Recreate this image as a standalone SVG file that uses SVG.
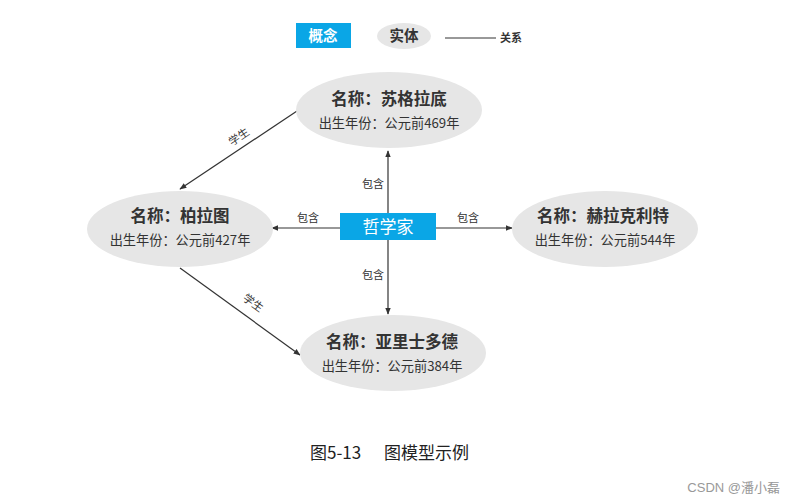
<svg xmlns="http://www.w3.org/2000/svg" width="794" height="503" viewBox="0 0 794 503">
<style>
text{font-family:"Noto Sans CJK SC","Noto Sans",sans-serif;fill:#333}
.ent{fill:#e6e6e6}
.t{font-size:16.5px;font-weight:bold;text-anchor:middle}
.s{font-size:13.2px;text-anchor:middle}
.lbl{font-size:11px;text-anchor:middle}
.ln{stroke:#333;stroke-width:1.2;fill:none;marker-end:url(#ah)}
</style>
<defs>
<marker id="ah" viewBox="0 0 10 10" refX="9" refY="5" markerWidth="7" markerHeight="7" orient="auto" markerUnits="userSpaceOnUse">
<path d="M0,1 L10,5 L0,9 Z" fill="#333"/>
</marker>
</defs>
<rect width="794" height="503" fill="#fff"/>
<g id="legend">
<rect x="296" y="23" width="55" height="25" fill="#0aa6e6"/>
<text x="323" y="41" style="font-size:14.5px;font-weight:bold;fill:#fff;text-anchor:middle">概念</text>
<ellipse class="ent" cx="404" cy="36" rx="27" ry="13"/>
<text x="404" y="41" style="font-size:14.5px;font-weight:bold;text-anchor:middle">实体</text>
<line x1="445" y1="38" x2="496" y2="38" stroke="#333" stroke-width="1"/>
<text x="500" y="42" style="font-size:11px;font-weight:bold">关系</text>
</g>
<g id="connectors">
<line class="ln" x1="388" y1="213" x2="388" y2="151"/>
<line class="ln" x1="388" y1="240" x2="388" y2="314"/>
<line class="ln" x1="340" y1="228" x2="272" y2="228"/>
<line class="ln" x1="436" y1="228" x2="512" y2="228"/>
<line class="ln" x1="297" y1="111" x2="180" y2="189"/>
<line class="ln" x1="180" y1="268" x2="300" y2="355"/>
<text class="lbl" x="373" y="188">包含</text>
<text class="lbl" x="373" y="279">包含</text>
<text class="lbl" x="308" y="222">包含</text>
<text class="lbl" x="468" y="222">包含</text>
<text class="lbl" transform="translate(241,140) rotate(-34)">学生</text>
<text class="lbl" transform="translate(251,306) rotate(36)">学生</text>
</g>
<g id="philosopher">
<rect x="340" y="213" width="96" height="27" fill="#0aa6e6"/>
<text x="388" y="233" style="font-size:17px;fill:#fff;text-anchor:middle">哲学家</text>
</g>
<g id="socrates">
<ellipse class="ent" cx="389" cy="110" rx="93" ry="38"/>
<text class="t" x="389" y="105">名称：苏格拉底</text>
<text class="s" x="389" y="128">出生年份：公元前469年</text>
</g>
<g id="plato">
<ellipse class="ent" cx="180" cy="229" rx="93" ry="38"/>
<text class="t" x="180" y="222">名称：柏拉图</text>
<text class="s" x="180" y="245">出生年份：公元前427年</text>
</g>
<g id="heraclitus">
<ellipse class="ent" cx="605" cy="229" rx="93" ry="38"/>
<text class="t" x="603" y="222">名称：赫拉克利特</text>
<text class="s" x="605" y="245">出生年份：公元前544年</text>
</g>
<g id="aristotle">
<ellipse class="ent" cx="393" cy="353" rx="93" ry="38"/>
<text class="t" x="392" y="348">名称：亚里士多德</text>
<text class="s" x="392" y="371">出生年份：公元前384年</text>
</g>
<text x="310" y="459" style="font-size:17px;fill:#222">图5-13</text>
<text x="384" y="459" style="font-size:17px;fill:#222">图模型示例</text>
<text x="780" y="492" style="font-size:13px;text-anchor:end;fill:#999;font-family:'Liberation Sans','Noto Sans CJK SC',sans-serif">CSDN @潘小磊</text>
</svg>
